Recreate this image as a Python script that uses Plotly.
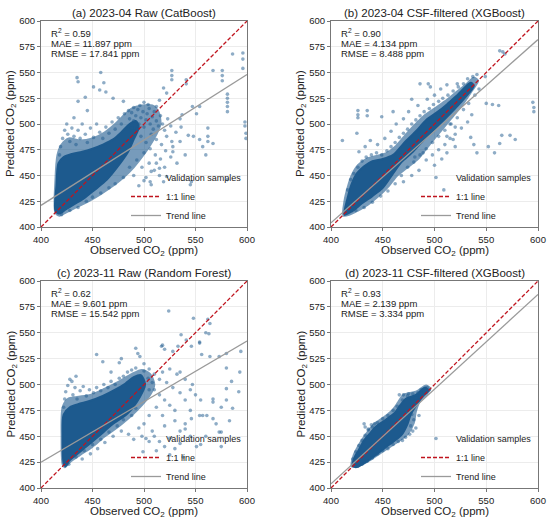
import plotly.graph_objects as go

W, H = 550, 523
DENSE = '#1d5a8e'
FONT = 'Liberation Sans, Arial, sans-serif'

# ---- values ----
titles = ['(a) 2023-04 Raw (CatBoost)', '(b) 2023-04 CSF-filtered (XGBoost)',
          '(c) 2023-11 Raw (Random Forest)', '(d) 2023-11 CSF-filtered (XGBoost)']
r2 = ['0.59', '0.90', '0.62', '0.93']
mae = ['11.897', '4.134', '9.601', '2.139']
rmse = ['17.841', '8.488', '15.542', '3.334']

x_ticks = [400, 450, 500, 550, 600]
y_ticks = [400, 425, 450, 475, 500, 525, 550, 575, 600]

# 1:1 line and trend lines (y at x = 400 and x = 600)
line_x = [400, 600]
one_to_one = [400, 600]
trend_a = [421, 548]
trend_b = [404, 582]
trend_c = [425, 542]
trend_d = [404, 587]

# outline of the saturated part of each point cloud
core_a = [(414, 416), (415, 440), (417, 462), (422, 468), (430, 471), (440, 473), (450, 476),
          (460, 480), (470, 485), (478, 492), (486, 500), (492, 503), (495, 497), (490, 485),
          (484, 472), (474, 458), (464, 446), (452, 436), (442, 428), (432, 422), (424, 417), (418, 413)]
core_b = [(413, 412), (416, 428), (420, 442), (425, 452), (432, 459), (440, 464), (450, 466),
          (460, 470), (470, 481), (483, 494), (492, 504), (502, 511), (512, 519), (522, 528),
          (535, 540), (538, 537), (528, 524), (515, 510), (502, 497), (490, 485), (478, 472),
          (468, 463), (460, 452), (450, 438), (440, 430), (430, 423), (420, 415)]
core_c = [(422, 424), (421, 450), (422, 471), (428, 478), (436, 481), (447, 484), (460, 489),
          (472, 495), (482, 501), (490, 507), (497, 509), (501, 500), (496, 488), (484, 472),
          (470, 462), (456, 450), (444, 440), (434, 432), (427, 426), (424, 421)]
core_d = [(421, 422), (423, 430), (427, 437), (432, 446), (437, 452), (443, 459), (453, 466),
          (462, 473), (467, 480), (472, 486), (482, 490), (491, 497), (494, 494), (489, 489),
          (483, 481), (477, 471), (474, 462), (468, 451), (455, 441), (442, 431), (432, 424), (424, 420)]

# outline of the dense but not saturated part of each cloud
mid_a = [(414, 414), (414, 445), (416, 470), (420, 480), (427, 486), (438, 484), (450, 486),
         (462, 492), (472, 500), (480, 508), (488, 515), (498, 518), (508, 518), (514, 512),
         (516, 500), (512, 490), (505, 478), (498, 468), (490, 458), (480, 448), (470, 440),
         (458, 432), (446, 425), (434, 419), (424, 414), (418, 411)]
mid_b = [(412, 411), (413, 425), (416, 438), (420, 450), (426, 460), (434, 466), (444, 469),
         (454, 472), (462, 478), (470, 487), (480, 498), (490, 508), (500, 515), (510, 522),
         (520, 530), (530, 538), (538, 545), (542, 542), (536, 532), (528, 520), (520, 510),
         (510, 498), (500, 486), (492, 476), (484, 466), (474, 458), (464, 450), (456, 440),
         (446, 430), (436, 422), (426, 416), (418, 412)]
mid_c = [(421, 423), (420, 450), (421, 478), (426, 486), (435, 488), (448, 490), (462, 496),
         (476, 503), (488, 510), (498, 514), (506, 510), (510, 500), (506, 490), (498, 480),
         (488, 470), (476, 460), (462, 450), (450, 440), (438, 432), (428, 425), (423, 420)]
mid_d = [(420, 421), (422, 432), (426, 440), (431, 448), (436, 455), (442, 462), (452, 469),
         (460, 476), (465, 483), (470, 490), (482, 493), (492, 499), (496, 496), (492, 490),
         (486, 484), (482, 474), (480, 463), (474, 452), (462, 443), (448, 434), (436, 426), (426, 421)]

# individual samples outside the saturated core
pts_a = [(418, 470), (419, 478), (421, 486), (423, 494), (425, 500), (426, 490), (428, 483), (430, 496),
         (432, 488), (434, 480), (436, 494), (438, 486), (440, 500), (443, 490), (445, 482), (448, 496),
         (451, 487), (454, 500), (457, 492), (460, 486), (463, 497), (466, 491), (469, 502), (472, 495),
         (475, 506), (478, 500), (481, 510),
         (486, 505), (488, 511), (490, 503), (492, 508), (494, 514), (495, 500), (497, 506), (499, 512),
         (500, 497), (502, 504), (503, 510), (505, 515), (506, 500), (508, 507), (509, 495), (510, 512),
         (512, 503), (514, 498), (496, 518), (500, 521), (504, 519), (490, 516), (485, 513), (493, 495),
         (488, 496), (516, 508), (518, 500), (520, 494), (523, 505), (526, 498),
         (497, 488), (502, 482), (507, 490), (512, 485), (517, 480), (522, 488), (527, 483), (531, 492),
         (500, 472), (506, 476), (511, 470), (516, 466), (521, 474), (526, 468), (493, 465), (498, 458),
         (505, 462), (510, 455), (515, 450), (520, 458), (486, 458), (490, 450), (480, 448), (472, 442),
         (466, 438), (458, 433), (450, 429), (444, 425), (436, 419), (428, 416), (420, 412), (500, 445),
         (507, 441), (495, 440),
         (435, 545), (436, 541), (458, 550), (461, 540), (451, 536), (457, 533), (443, 526), (436, 522),
         (445, 513), (432, 506), (463, 531), (470, 525), (480, 522), (527, 552), (527, 547), (527, 543),
         (541, 543), (541, 539), (567, 552), (576, 552), (576, 547), (576, 542), (586, 568), (596, 569),
         (596, 563), (596, 554), (581, 529), (581, 525), (581, 521), (581, 517), (581, 512), (598, 502),
         (598, 498), (599, 491), (599, 486), (562, 496), (562, 488), (562, 483), (567, 481), (554, 485),
         (548, 488), (543, 489), (536, 497), (535, 505), (537, 509), (528, 478), (528, 473), (535, 483),
         (557, 478), (551, 510), (547, 517), (554, 517), (522, 530), (519, 535), (515, 523), (512, 517),
         (519, 444), (522, 449), (515, 457), (512, 462), (507, 454), (506, 444), (546, 444), (545, 441),
         (581, 446), (540, 470), (532, 462), (560, 470)]

pts_b = [(416, 436), (419, 446), (422, 452), (426, 458), (430, 464), (434, 468), (439, 470), (444, 472),
         (449, 470), (454, 474), (458, 478), (462, 482), (466, 487), (470, 491), (474, 495), (478, 500),
         (482, 504), (486, 508), (490, 512), (495, 515), (499, 519), (504, 522), (508, 525), (513, 528),
         (518, 532), (523, 536), (528, 539), (532, 544), (537, 546), (541, 548),
         (424, 416), (432, 419), (440, 424), (448, 430), (455, 435), (462, 442), (468, 450), (474, 458),
         (480, 463), (486, 470), (492, 476), (498, 482), (504, 488), (510, 494), (516, 500), (522, 506),
         (528, 514), (533, 520), (539, 528), (543, 534),
         (427, 473), (433, 478), (438, 484), (445, 480), (452, 486), (458, 493), (463, 500), (470, 505),
         (475, 512), (484, 518), (493, 524), (500, 528), (506, 534), (512, 538),
         (492, 465), (498, 470), (504, 475), (510, 480), (515, 486), (520, 490), (526, 496), (532, 502),
         (536, 509), (500, 460), (507, 466), (512, 472), (520, 478), (485, 455), (478, 450), (470, 444),
         (426, 513), (426, 509), (426, 506), (411, 484), (425, 491), (435, 513), (435, 508), (449, 507),
         (460, 512), (494, 539), (486, 539), (496, 536), (478, 524), (522, 539), (549, 546), (563, 571),
         (566, 570), (568, 568), (550, 520), (556, 519), (562, 518), (595, 521), (596, 516), (596, 512),
         (565, 489), (578, 485), (573, 489), (563, 481), (552, 478), (558, 472), (509, 436), (489, 472),
         (481, 468), (535, 487), (538, 480), (541, 472), (520, 497), (515, 500), (512, 488), (518, 485)]

pts_c = [(422, 478), (423, 486), (424, 493), (426, 499), (428, 505), (431, 490), (433, 497), (435, 486),
         (438, 494), (441, 498), (444, 489), (447, 495), (451, 492), (454, 497), (458, 494), (461, 500),
         (465, 497), (468, 503), (472, 500), (476, 506), (480, 508), (484, 512), (488, 514), (492, 516),
         (430, 503), (434, 508), (454, 529), (460, 522), (476, 521), (478, 525), (494, 530), (496, 527),
         (492, 535), (468, 512),
         (500, 513), (504, 506), (505, 495), (508, 502), (510, 495), (515, 490), (520, 485), (525, 480),
         (530, 475), (512, 478), (518, 470), (505, 470), (500, 462), (495, 458), (508, 455), (520, 460),
         (530, 465), (535, 455), (540, 462), (545, 475), (540, 485), (535, 492), (528, 497), (522, 502),
         (515, 505), (510, 510), (505, 515), (500, 520), (518, 512), (525, 515), (532, 510), (540, 505),
         (547, 500), (550, 490), (555, 485), (545, 495), (488, 470), (492, 477), (480, 466), (474, 460),
         (466, 454), (458, 447), (450, 442), (442, 436), (434, 430), (427, 423),
         (510, 450), (515, 445), (525, 448), (535, 443), (545, 450), (520, 440), (530, 438), (505, 445),
         (498, 450), (490, 447), (485, 452), (478, 455), (470, 450), (462, 444), (455, 438), (448, 433),
         (440, 428), (499, 435), (512, 436), (525, 432), (538, 430), (551, 440), (555, 442), (560, 450),
         (573, 454), (575, 440),
         (517, 537), (518, 538), (520, 534), (528, 532), (533, 537), (541, 543), (546, 537), (554, 540),
         (560, 550), (562, 563), (564, 559), (556, 529), (564, 527), (573, 527), (580, 530), (594, 532),
         (524, 571), (548, 564), (563, 549), (554, 541), (536, 548), (580, 516), (593, 512), (585, 503),
         (580, 496), (592, 493), (567, 486), (567, 483), (575, 478), (580, 485), (554, 470), (557, 470),
         (561, 470), (567, 467), (570, 462), (575, 454), (583, 465), (546, 467), (586, 477), (535, 512),
         (540, 457)]

pts_d = [(421, 428), (424, 435), (427, 441), (430, 446), (433, 451), (436, 456), (440, 459), (445, 463),
         (450, 467), (455, 470), (460, 475), (464, 479), (469, 485), (474, 489), (479, 491), (484, 492),
         (466, 490), (470, 490), (475, 491), (487, 495), (490, 493), (493, 497), (495, 495), (478, 486),
         (482, 487), (486, 488), (480, 479), (478, 471), (480, 466), (477, 460), (482, 458), (479, 455),
         (476, 452), (472, 449), (469, 446), (465, 445), (460, 442), (455, 438), (450, 436), (445, 433),
         (440, 429), (435, 426), (430, 423), (426, 421), (432, 462), (433, 459), (442, 462), (436, 457),
         (439, 461), (485, 470)]

cores = [core_a, core_b, core_c, core_d]
mids = [mid_a, mid_b, mid_c, mid_d]
points = [pts_a, pts_b, pts_c, pts_d]
trends = [trend_a, trend_b, trend_c, trend_d]

# plot boxes in pixels (left, right, top, bottom)
boxes = [(41, 247, 21, 227), (331, 538, 21, 227), (41, 247, 281, 488), (331, 538, 281, 488)]

fig = go.Figure()
annotations = []


def outline(pairs):
    xs, ys = zip(*pairs)
    return list(xs) + [xs[0]], list(ys) + [ys[0]]


for i in range(4):
    n = '' if i == 0 else str(i + 1)
    xa, ya, leg = 'x' + n, 'y' + n, 'legend' + n
    x0, x1, y0, y1 = boxes[i]

    for poly, op in ((mids[i], 0.6), (cores[i], 1.0)):
        ox, oy = outline(poly)
        fig.add_trace(go.Scatter(x=ox, y=oy, mode='lines', fill='toself', fillcolor=DENSE,
                                 line=dict(color=DENSE, width=2, shape='spline', smoothing=0.8),
                                 opacity=op, hoverinfo='skip', showlegend=False,
                                 xaxis=xa, yaxis=ya))
    px_, py_ = zip(*points[i])
    fig.add_trace(go.Scatter(x=px_, y=py_, mode='markers', name='Validation samples',
                             marker=dict(size=3.6, color=DENSE, opacity=0.5, line=dict(width=0)),
                             legend=leg, xaxis=xa, yaxis=ya))
    fig.add_trace(go.Scatter(x=line_x, y=one_to_one, mode='lines', name='1:1 line',
                             line=dict(color='#c0141e', width=1.3, dash='4px,2px'),
                             legend=leg, xaxis=xa, yaxis=ya))
    fig.add_trace(go.Scatter(x=line_x, y=trends[i], mode='lines', name='Trend line',
                             line=dict(color='#9a9a9a', width=1.3),
                             legend=leg, xaxis=xa, yaxis=ya))

    axis_common = dict(range=[400, 600], showgrid=True, gridcolor='#ececec', gridwidth=0.8,
                       showline=True, linecolor='#777777', linewidth=1.2, mirror=True,
                       ticks='outside', ticklen=3, tickcolor='#777777', zeroline=False,
                       automargin=False,
                       tickfont=dict(size=9.5, color='#222222', family=FONT))
    fig.update_layout(**{
        'xaxis' + n: dict(domain=[x0 / W, x1 / W], anchor=ya, tickvals=x_ticks, **axis_common),
        'yaxis' + n: dict(domain=[1 - y1 / H, 1 - y0 / H], anchor=xa, tickvals=y_ticks, **axis_common),
        leg: dict(x=(x0 + 85) / W, y=1 - (y1 + 3) / H, xanchor='left', yanchor='bottom',
                  bgcolor='rgba(0,0,0,0)', borderwidth=0,
                  font=dict(size=9, color='#222222', family=FONT)),
    })

    label = dict(xref='paper', yref='paper', showarrow=False, xanchor='center', yanchor='middle',
                 font=dict(size=11.5, color='#222222', family=FONT))
    annotations.append(dict(label, text=titles[i], x=(x0 + x1) / 2 / W, y=1 - (y0 - 8) / H))
    annotations.append(dict(label, text='Observed CO<sub>2</sub> (ppm)', x=(x0 + x1) / 2 / W,
                            y=1 - (y1 + 24) / H))
    annotations.append(dict(label, text='Predicted CO<sub>2</sub> (ppm)', x=(x0 - 30) / W,
                            y=1 - (y0 + y1) / 2 / H, textangle=-90))
    stats = ['R<sup>2</sup> = ' + r2[i], 'MAE = ' + mae[i] + ' ppm', 'RMSE = ' + rmse[i] + ' ppm']
    for k, s in enumerate(stats):
        annotations.append(dict(text=s, x=0.04, y=[0.94, 0.892, 0.843][k], xanchor='left',
                                yanchor='middle', xref=xa + ' domain', yref=ya + ' domain',
                                showarrow=False, font=dict(size=9.5, color='#222222', family=FONT)))

fig.update_layout(width=W, height=H, margin=dict(l=0, r=0, t=0, b=0),
                  paper_bgcolor='white', plot_bgcolor='white',
                  font=dict(family=FONT), annotations=annotations)

# the page's default body margin would push the 550x523 figure off the window
fig.write_html("out.html", config={'displayModeBar': False},
               post_script="document.body.style.margin = '0px';")
